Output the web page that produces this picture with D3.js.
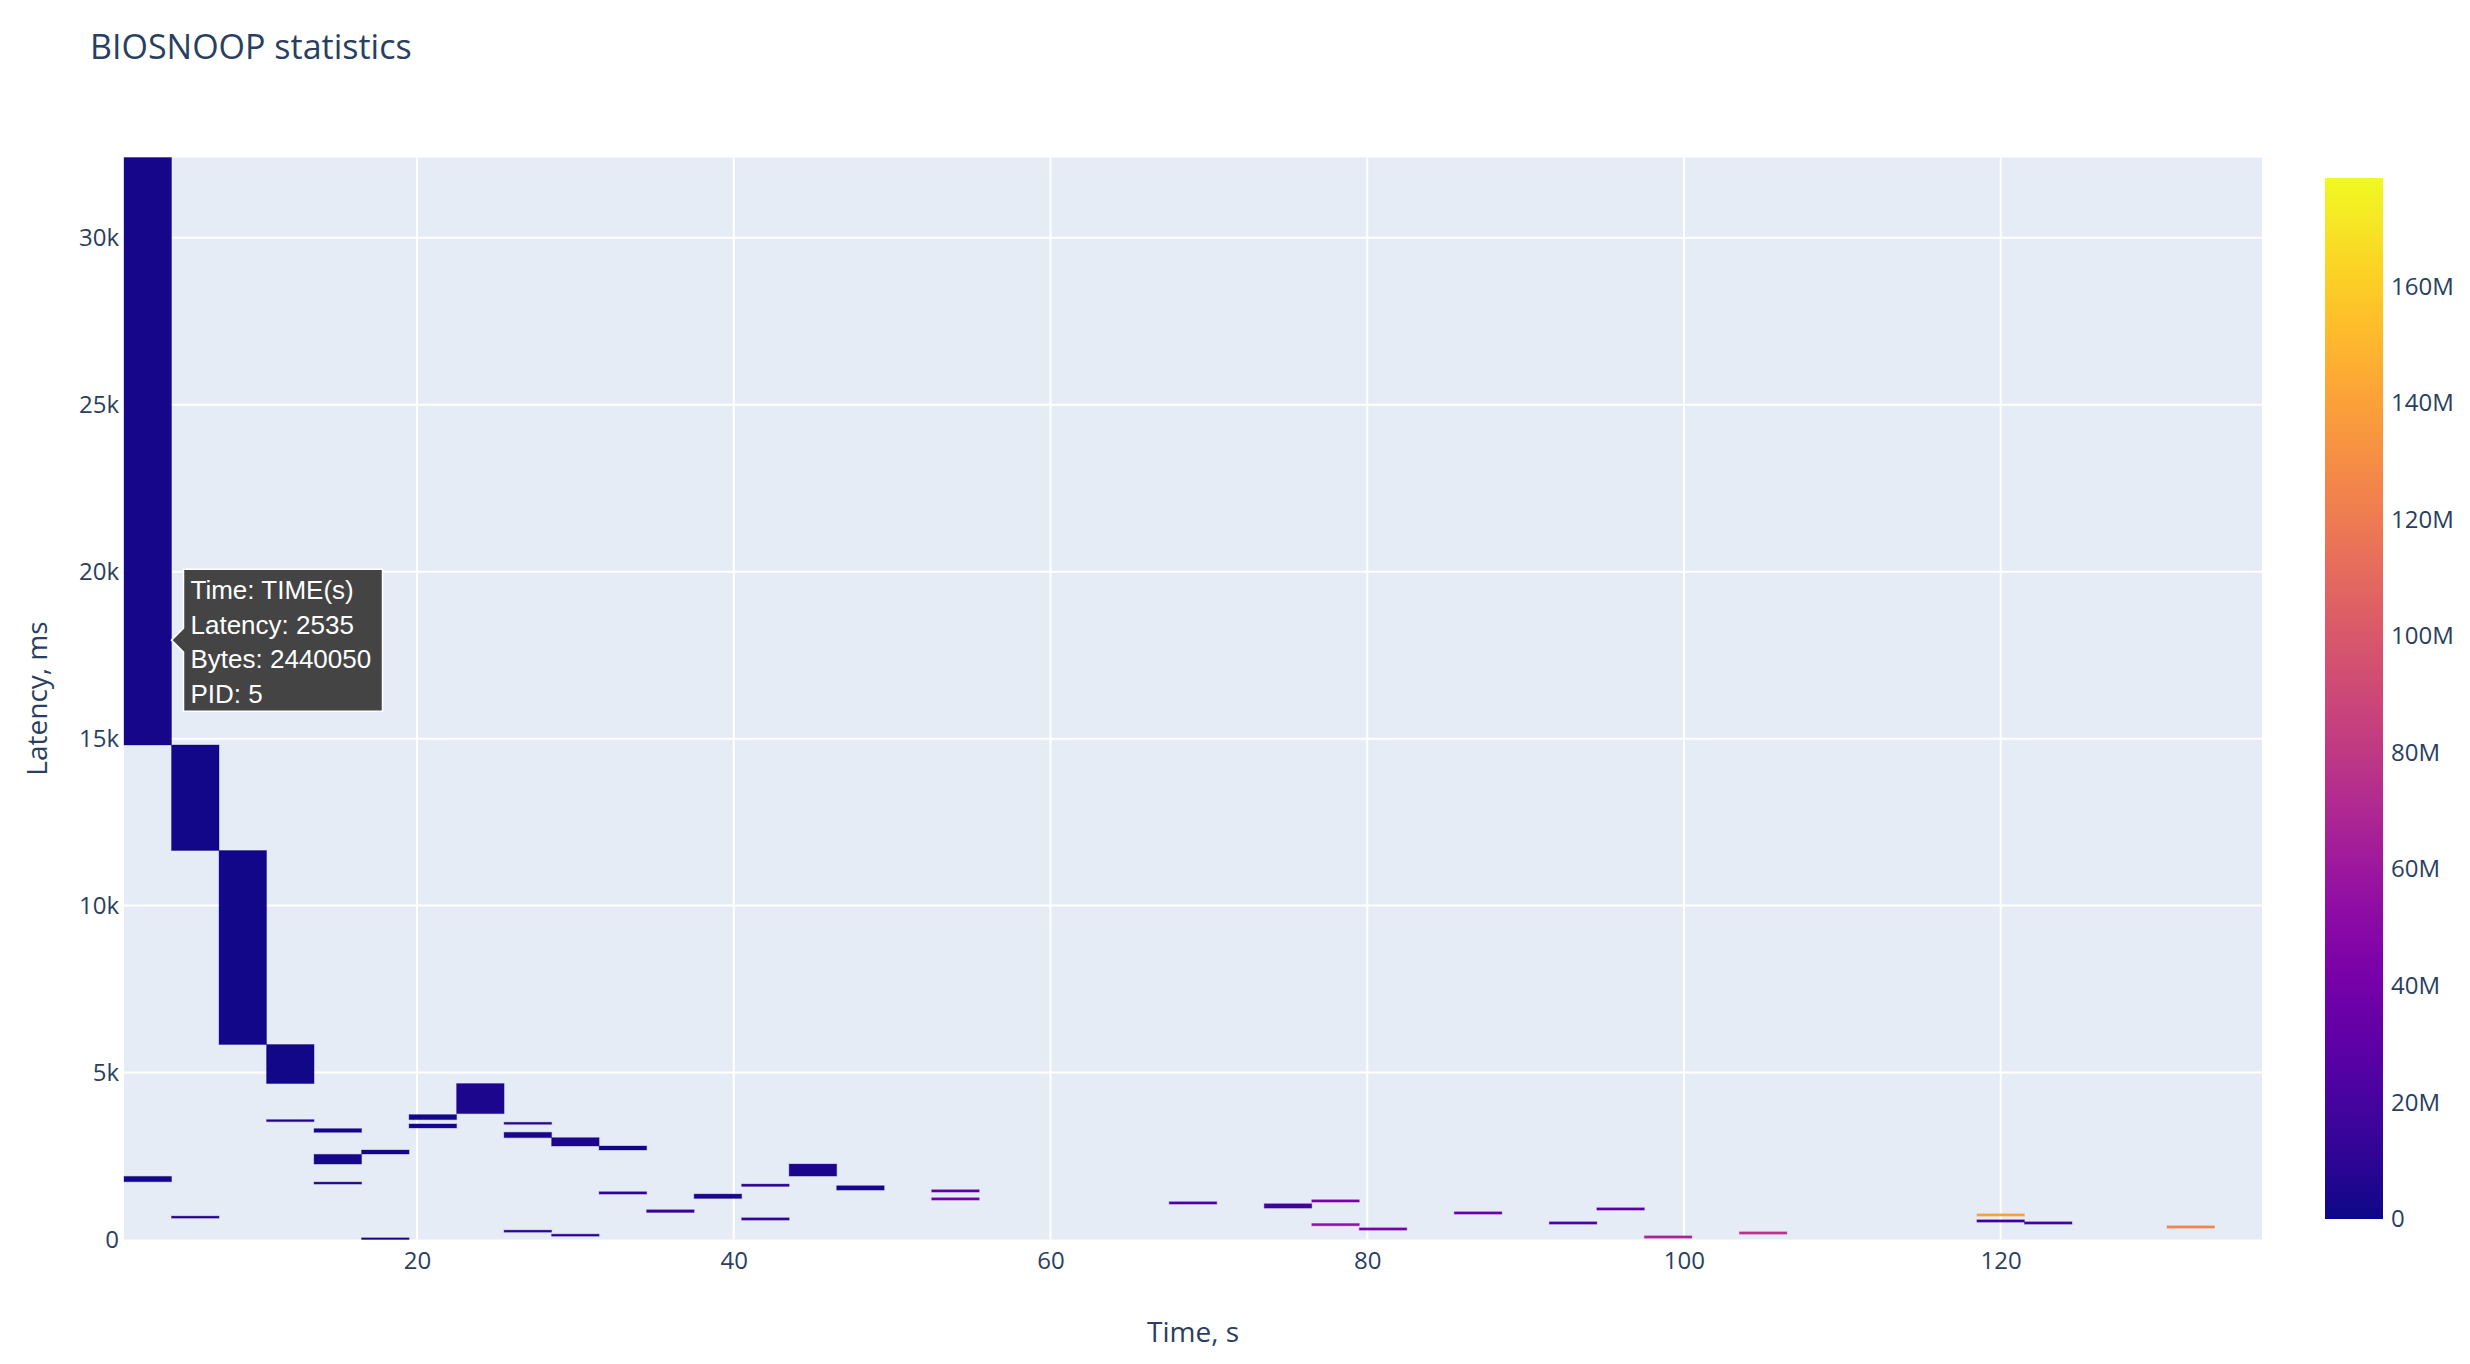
<!DOCTYPE html>
<html>
<head>
<meta charset="utf-8">
<script src="https://cdn.jsdelivr.net/npm/d3@7"></script>
<style>
  body { margin: 0; background: #fff; }
  svg { display: block; font-family: 'Open Sans', verdana, arial, sans-serif; }
</style>
</head>
<body>
<svg id="chart"></svg>
<script>
// one entry per heatmap cell: time bin centre (s), latency band (ms), bytes
const cellTime = [3, 3, 6, 6, 9, 12, 12, 15, 15, 15, 18, 18, 21, 21, 24, 27, 27, 27, 30, 30, 33, 33,
  36, 39, 42, 42, 45, 48, 54, 54, 69, 75, 78, 78, 81, 87, 93, 96, 99, 105, 120, 120, 123, 132]
const cellLatLow = [14810, 1730, 11650, 640, 5840, 4670, 3530, 3210, 2260, 1660, 2560, 0, 3590, 3340,
  3770, 3450, 3050, 220, 2800, 100, 2680, 1360, 810, 1230, 1590, 580, 1900, 1480, 1420, 1180, 1060,
  940, 1120, 410, 280, 760, 460, 880, 40, 160, 700, 520, 460, 340]
const cellLatHigh = [32405, 1890, 14810, 700, 11650, 5840, 3590, 3320, 2550, 1720, 2680, 50, 3740, 3460,
  4670, 3510, 3210, 280, 3050, 160, 2800, 1430, 890, 1360, 1660, 650, 2260, 1610, 1490, 1250, 1130,
  1070, 1190, 480, 350, 830, 530, 950, 110, 230, 770, 590, 530, 410]
const cellBytes = [2.44e6, 1.5e6, 1.8e6, 8e6, 1.6e6, 1.8e6, 6e6, 2e6, 2.5e6, 8e6, 2e6, 3e6, 2e6, 2e6,
  4e6, 8e6, 3e6, 10e6, 4.5e6, 10e6, 2e6, 10e6, 14e6, 3e6, 10e6, 12e6, 4e6, 2.5e6, 30e6, 40e6, 25e6,
  18e6, 43e6, 57e6, 42e6, 35e6, 25e6, 28e6, 68e6, 77e6, 140e6, 17e6, 20e6, 125e6]
const binWidth = 3

const timeRange = [1.5, 136.5]
const latencyRange = [0, 32405]
const bytesRange = [0, 178.6e6]

const timeTicks = [20, 40, 60, 80, 100, 120]
const latencyTicks = [0, 5000, 10000, 15000, 20000, 25000, 30000]
const bytesTicks = [0, 20e6, 40e6, 60e6, 80e6, 100e6, 120e6, 140e6, 160e6]

const hoverLines = ['Time: TIME(s)', 'Latency: 2535', 'Bytes: 2440050', 'PID: 5']
const hoverAt = [4.5, 17950]

const width = 2470
const height = 1364
const plot = {left: 124, right: 2262, top: 157.5, bottom: 1239.5}
const bar = {left: 2325, width: 58, top: 178, bottom: 1219}
const textColor = '#2a3f5f'

const cells = cellTime.map((t, i) => ({
  t: t,
  lo: cellLatLow[i],
  hi: cellLatHigh[i],
  bytes: cellBytes[i]
}))

const svg = d3.select('#chart')
  .attr('width', width)
  .attr('height', height)

const x = d3.scaleLinear()
  .domain(timeRange)
  .range([plot.left, plot.right])
const y = d3.scaleLinear()
  .domain(latencyRange)
  .range([plot.bottom, plot.top])
const color = d3.scaleSequential(d3.interpolatePlasma)
  .domain(bytesRange)

svg.append('rect')
  .attr('x', plot.left)
  .attr('y', plot.top)
  .attr('width', plot.right - plot.left)
  .attr('height', plot.bottom - plot.top)
  .attr('fill', '#e5ecf6')

// grid
svg.append('g')
  .selectAll('line')
  .data(timeTicks)
  .enter()
  .append('line')
  .attr('x1', (d) => x(d))
  .attr('x2', (d) => x(d))
  .attr('y1', plot.top)
  .attr('y2', plot.bottom)
  .attr('stroke', '#fff')
  .attr('stroke-width', 2)
svg.append('g')
  .selectAll('line')
  .data(latencyTicks.filter((d) => d > 0))
  .enter()
  .append('line')
  .attr('x1', plot.left)
  .attr('x2', plot.right)
  .attr('y1', (d) => y(d))
  .attr('y2', (d) => y(d))
  .attr('stroke', '#fff')
  .attr('stroke-width', 2)

// heatmap cells (plotly smooths the cell edges a little)
svg.append('g')
  .classed('cells', true)
  .selectAll('rect')
  .data(cells)
  .enter()
  .append('rect')
  .attr('x', (d) => x(d.t - binWidth / 2))
  .attr('width', (d) => x(d.t + binWidth / 2) - x(d.t - binWidth / 2))
  .attr('y', (d) => y(d.hi))
  .attr('height', (d) => y(d.lo) - y(d.hi))
  .attr('fill', (d) => color(d.bytes))
  .attr('stroke', (d) => color(d.bytes))
  .attr('stroke-opacity', 0.35)
  .attr('stroke-width', 1)

// axes
const xAxis = d3.axisBottom(x)
  .tickValues(timeTicks)
  .tickSize(0)
  .tickPadding(12)
svg.append('g')
  .attr('transform', 'translate(0,' + plot.bottom + ')')
  .call(xAxis)
const yAxis = d3.axisLeft(y)
  .tickValues(latencyTicks)
  .tickFormat(d3.format('~s'))
  .tickSize(0)
  .tickPadding(5)
svg.append('g')
  .attr('transform', 'translate(' + plot.left + ',0)')
  .call(yAxis)

// colorbar
const barScale = d3.scaleLinear()
  .domain(bytesRange)
  .range([bar.bottom, bar.top])
const grad = svg.append('defs')
  .append('linearGradient')
  .attr('id', 'plasma')
  .attr('x1', 0).attr('y1', 1)
  .attr('x2', 0).attr('y2', 0)
grad.selectAll('stop')
  .data(d3.range(0, 1.0001, 0.05))
  .enter()
  .append('stop')
  .attr('offset', (d) => d)
  .attr('stop-color', (d) => d3.interpolatePlasma(d))
svg.append('rect')
  .attr('x', bar.left)
  .attr('y', bar.top)
  .attr('width', bar.width)
  .attr('height', bar.bottom - bar.top)
  .attr('fill', 'url(#plasma)')
const barAxis = d3.axisRight(barScale)
  .tickValues(bytesTicks)
  .tickFormat(d3.format('~s'))
  .tickSize(0)
  .tickPadding(8)
svg.append('g')
  .attr('transform', 'translate(' + (bar.left + bar.width) + ',0)')
  .call(barAxis)

svg.selectAll('.domain').remove()
svg.selectAll('.tick text')
  .attr('font-family', "'Open Sans', verdana, arial, sans-serif")
  .attr('font-size', 24)
  .attr('fill', textColor)

// titles
svg.append('text')
  .text('BIOSNOOP statistics')
  .attr('x', 90)
  .attr('y', 59)
  .attr('font-size', 34)
  .attr('fill', textColor)
svg.append('text')
  .text('Time, s')
  .attr('x', (plot.left + plot.right) / 2)
  .attr('y', 1342)
  .attr('text-anchor', 'middle')
  .attr('font-size', 28)
  .attr('fill', textColor)
svg.append('text')
  .text('Latency, ms')
  .attr('transform', 'translate(47,' + (plot.top + plot.bottom) / 2 + ') rotate(-90)')
  .attr('text-anchor', 'middle')
  .attr('font-size', 28)
  .attr('fill', textColor)

// hover label
const tipX = x(hoverAt[0])
const tipY = y(hoverAt[1])
const boxW = 199
const boxH = 142
const hover = svg.append('g')
  .attr('transform', 'translate(' + tipX + ',' + tipY + ')')
hover.append('path')
  .attr('d', 'M0,0 L12,-12 V' + (-boxH / 2) + ' H' + (12 + boxW) + ' V' + (boxH / 2) + ' H12 V12 Z')
  .attr('fill', '#444')
  .attr('stroke', '#fff')
  .attr('stroke-width', 1.5)
hover.selectAll('text')
  .data(hoverLines)
  .enter()
  .append('text')
  .text((d) => d)
  .attr('x', 19)
  .attr('y', (d, i) => -41 + i * 34.5)
  .attr('font-family', "Arial, 'Liberation Sans', sans-serif")
  .attr('font-size', 26)
  .attr('fill', '#fff')
</script>
</body>
</html>
